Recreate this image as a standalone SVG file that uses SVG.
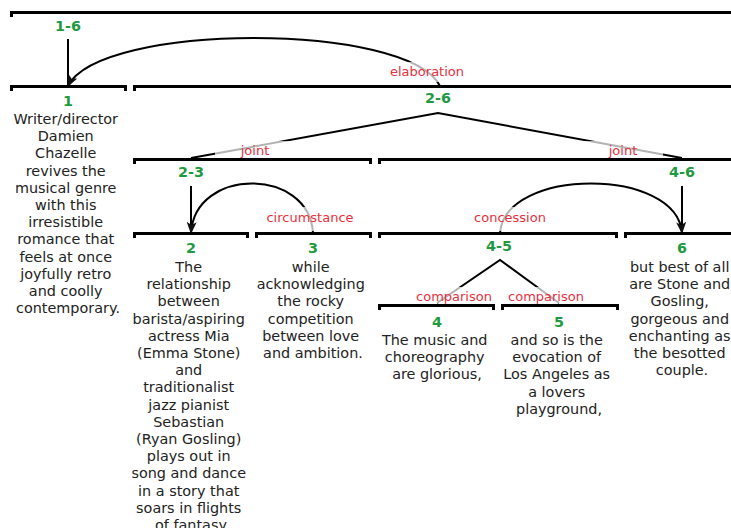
<svg xmlns="http://www.w3.org/2000/svg" width="731" height="528" viewBox="0 0 731 528">
  <style>
    .span { fill: none; stroke: #000; stroke-width: 3; }
    .edge { fill: none; stroke: #000; stroke-width: 2; }
    .num { font-family: "DejaVu Sans", sans-serif; font-size: 14.4px; font-weight: bold; fill: #1f9a40; text-anchor: middle; }
    .txt { font-family: "DejaVu Sans", sans-serif; font-size: 14.4px; fill: #222; text-anchor: middle; }
    .rel { font-family: "DejaVu Sans", sans-serif; font-size: 13px; fill: #e8303d; text-anchor: middle; }
    .relbox { fill: #fff; fill-opacity: 0.7; }
  </style>
  <defs>
    <marker id="arrow" viewBox="0 0 12 10" refX="11" refY="5" markerWidth="12" markerHeight="10" markerUnits="userSpaceOnUse" orient="auto">
      <path d="M0,0 L12,5 L0,10 L3,5 z" fill="#111"/>
    </marker>
  </defs>
  <rect width="731" height="528" fill="#fff"/>

  <!-- connectors: span tree, nucleus stems and relation arcs -->
  <g id="connectors">
    <!-- 1-6 stem down to nucleus 1 -->
    <line class="edge" x1="68" y1="39" x2="68" y2="86"/>
    <!-- 2-6 multinuclear joint -->
    <polyline class="edge" points="191,158 438,113 682,158"/>
    <!-- 2-3 stem down to nucleus 2 -->
    <line class="edge" x1="191" y1="186" x2="191" y2="232"/>
    <!-- 4-6 stem down to nucleus 6 -->
    <line class="edge" x1="682" y1="186" x2="682" y2="232"/>
    <!-- 4-5 multinuclear comparison -->
    <polyline class="edge" points="437,303 500,260 559,303"/>
    <!-- elaboration: 2-6 -> 1 -->
    <path class="edge" d="M440,86 C408,22 100,22 68,86" marker-end="url(#arrow)"/>
    <!-- circumstance: 3 -> 2 -->
    <path class="edge" d="M313,233 C309,167 195,167 191,233" marker-end="url(#arrow)"/>
    <!-- concession: 4-5 -> 6 -->
    <path class="edge" d="M500,233 C505,167 677,167 682,233" marker-end="url(#arrow)"/>
  </g>

  <!-- relation labels -->
  <g id="labels">
    <rect class="relbox" x="385" y="62" width="85" height="20"/>
    <text class="rel" x="427" y="76">elaboration</text>
    <rect class="relbox" x="215" y="141" width="80" height="17"/>
    <text class="rel" x="255" y="155">joint</text>
    <rect class="relbox" x="583" y="141" width="80" height="17"/>
    <text class="rel" x="623" y="155">joint</text>
    <rect class="relbox" x="262" y="207" width="96" height="24"/>
    <text class="rel" x="310" y="222">circumstance</text>
    <rect class="relbox" x="470" y="207" width="80" height="24"/>
    <text class="rel" x="510" y="222">concession</text>
    <rect class="relbox" x="411" y="287" width="86" height="16"/>
    <text class="rel" x="454" y="301">comparison</text>
    <rect class="relbox" x="503" y="287" width="86" height="16"/>
    <text class="rel" x="546" y="301">comparison</text>
  </g>

  <g id="span-1-6">
    <path class="span" d="M11.5,17 V12.5 H745"/>
    <text class="num" x="68" y="31">1-6</text>
  </g>

  <g id="span-2-6">
    <path class="span" d="M134.5,91 V86.5 H745"/>
    <text class="num" x="438" y="103">2-6</text>
  </g>

  <g id="span-2-3">
    <path class="span" d="M134.5,164 V159.5 H370.5 V164"/>
    <text class="num" x="191" y="177">2-3</text>
  </g>

  <g id="span-4-6">
    <path class="span" d="M379.5,164 V159.5 H745"/>
    <text class="num" x="682" y="177">4-6</text>
  </g>

  <g id="span-4-5">
    <path class="span" d="M379.5,238 V233.5 H616.5 V238"/>
    <text class="num" x="499" y="251">4-5</text>
  </g>

  <g id="node-1">
    <path class="span" d="M11.5,91 V86.5 H125.5 V91"/>
    <text class="num" x="68" y="106">1</text>
    <text class="txt" x="68" y="124">
      <tspan x="68" dy="0">Writer/director</tspan>
      <tspan x="68" dy="17.2">Damien</tspan>
      <tspan x="68" dy="17.2">Chazelle</tspan>
      <tspan x="68" dy="17.2">revives the</tspan>
      <tspan x="68" dy="17.2">musical genre</tspan>
      <tspan x="68" dy="17.2">with this</tspan>
      <tspan x="68" dy="17.2">irresistible</tspan>
      <tspan x="68" dy="17.2">romance that</tspan>
      <tspan x="68" dy="17.2">feels at once</tspan>
      <tspan x="68" dy="17.2">joyfully retro</tspan>
      <tspan x="68" dy="17.2">and coolly</tspan>
      <tspan x="68" dy="17.2">contemporary.</tspan>
    </text>
  </g>

  <g id="node-2">
    <path class="span" d="M134.5,238 V233.5 H247.5 V238"/>
    <text class="num" x="191" y="253">2</text>
    <text class="txt" x="191" y="272">
      <tspan x="191" dy="0">The</tspan>
      <tspan x="191" dy="17.2">relationship</tspan>
      <tspan x="191" dy="17.2">between</tspan>
      <tspan x="191" dy="17.2">barista/aspiring</tspan>
      <tspan x="191" dy="17.2">actress Mia</tspan>
      <tspan x="191" dy="17.2">(Emma Stone)</tspan>
      <tspan x="191" dy="17.2">and</tspan>
      <tspan x="191" dy="17.2">traditionalist</tspan>
      <tspan x="191" dy="17.2">jazz pianist</tspan>
      <tspan x="191" dy="17.2">Sebastian</tspan>
      <tspan x="191" dy="17.2">(Ryan Gosling)</tspan>
      <tspan x="191" dy="17.2">plays out in</tspan>
      <tspan x="191" dy="17.2">song and dance</tspan>
      <tspan x="191" dy="17.2">in a story that</tspan>
      <tspan x="191" dy="17.2">soars in flights</tspan>
      <tspan x="191" dy="17.2">of fantasy</tspan>
    </text>
  </g>

  <g id="node-3">
    <path class="span" d="M256.5,238 V233.5 H370.5 V238"/>
    <text class="num" x="313" y="253">3</text>
    <text class="txt" x="313" y="272">
      <tspan x="313" dy="0">while</tspan>
      <tspan x="313" dy="17.2">acknowledging</tspan>
      <tspan x="313" dy="17.2">the rocky</tspan>
      <tspan x="313" dy="17.2">competition</tspan>
      <tspan x="313" dy="17.2">between love</tspan>
      <tspan x="313" dy="17.2">and ambition.</tspan>
    </text>
  </g>

  <g id="node-4">
    <path class="span" d="M379.5,310 V305.5 H493.5 V310"/>
    <text class="num" x="437" y="327">4</text>
    <text class="txt" x="437" y="345">
      <tspan x="437" dy="0">The music and</tspan>
      <tspan x="437" dy="17.2">choreography</tspan>
      <tspan x="437" dy="17.2">are glorious,</tspan>
    </text>
  </g>

  <g id="node-5">
    <path class="span" d="M502.5,310 V305.5 H617.5 V310"/>
    <text class="num" x="559" y="327">5</text>
    <text class="txt" x="559" y="345">
      <tspan x="559" dy="0">and so is the</tspan>
      <tspan x="559" dy="17.2">evocation of</tspan>
      <tspan x="559" dy="17.2">Los Angeles as</tspan>
      <tspan x="559" dy="17.2">a lovers</tspan>
      <tspan x="559" dy="17.2">playground,</tspan>
    </text>
  </g>

  <g id="node-6">
    <path class="span" d="M625.5,238 V233.5 H745"/>
    <text class="num" x="682" y="253">6</text>
    <text class="txt" x="682" y="272">
      <tspan x="682" dy="0">but best of all</tspan>
      <tspan x="682" dy="17.2">are Stone and</tspan>
      <tspan x="682" dy="17.2">Gosling,</tspan>
      <tspan x="682" dy="17.2">gorgeous and</tspan>
      <tspan x="682" dy="17.2">enchanting as</tspan>
      <tspan x="682" dy="17.2">the besotted</tspan>
      <tspan x="682" dy="17.2">couple.</tspan>
    </text>
  </g>
</svg>
